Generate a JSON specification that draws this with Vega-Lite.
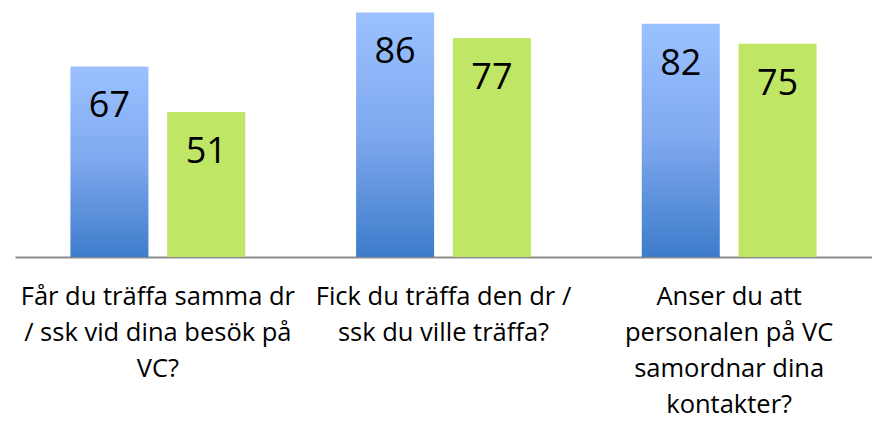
{
  "$schema": "https://vega.github.io/schema/vega-lite/v6.json",
  "autosize": {"type": "none"},
  "padding": {"left": 15, "top": 1, "right": 0, "bottom": 166},
  "width": 857,
  "height": 256,
  "background": "white",
  "data": {
    "values": [
      {"fraga": "Får du träffa samma dr\n/ ssk vid dina besök på\nVC?", "serie": "A", "varde": 67},
      {"fraga": "Får du träffa samma dr\n/ ssk vid dina besök på\nVC?", "serie": "B", "varde": 51},
      {"fraga": "Fick du träffa den dr /\nssk du ville träffa?", "serie": "A", "varde": 86},
      {"fraga": "Fick du träffa den dr /\nssk du ville träffa?", "serie": "B", "varde": 77},
      {"fraga": "Anser du att\npersonalen på VC\nsamordnar dina\nkontakter?", "serie": "A", "varde": 82},
      {"fraga": "Anser du att\npersonalen på VC\nsamordnar dina\nkontakter?", "serie": "B", "varde": 75}
    ]
  },
  "encoding": {
    "x": {
      "field": "fraga",
      "type": "nominal",
      "sort": null,
      "title": null,
      "scale": {"paddingInner": 0, "paddingOuter": 0},
      "axis": {
        "labelExpr": "split(datum.label, '\\n')",
        "labelAngle": 0,
        "labelFont": "Open Sans",
        "labelFontSize": 25.5,
        "labelLineHeight": 36,
        "labelColor": "#000000",
        "labelPadding": 27,
        "labelBaseline": "top",
        "labelLimit": 400,
        "ticks": false,
        "domain": true,
        "domainColor": "#8C8C8C",
        "domainWidth": 2,
        "grid": false
      }
    },
    "xOffset": {
      "field": "serie",
      "type": "nominal",
      "scale": {"domain": ["A", "B"], "paddingInner": 0.194, "paddingOuter": 0.5725}
    },
    "y": {
      "field": "varde",
      "type": "quantitative",
      "scale": {"domain": [0, 90], "nice": false},
      "axis": null
    }
  },
  "layer": [
    {
      "transform": [{"filter": "datum.serie === 'A'"}],
      "mark": {
        "type": "bar",
        "color": {
          "gradient": "linear",
          "x1": 0, "y1": 0, "x2": 0, "y2": 1,
          "stops": [
            {"offset": 0, "color": "#9BC1FF"},
            {"offset": 0.5, "color": "#7FA8EE"},
            {"offset": 1, "color": "#3D7CCB"}
          ]
        }
      }
    },
    {
      "transform": [{"filter": "datum.serie === 'B'"}],
      "mark": {"type": "bar", "color": "#BFE665"}
    },
    {
      "mark": {
        "type": "text",
        "baseline": "alphabetic",
        "align": "center",
        "dy": 51,
        "font": "Open Sans",
        "fontSize": 36,
        "color": "#000000"
      },
      "encoding": {
        "text": {"field": "varde", "type": "quantitative"}
      }
    }
  ],
  "config": {
    "view": {"stroke": null}
  }
}
